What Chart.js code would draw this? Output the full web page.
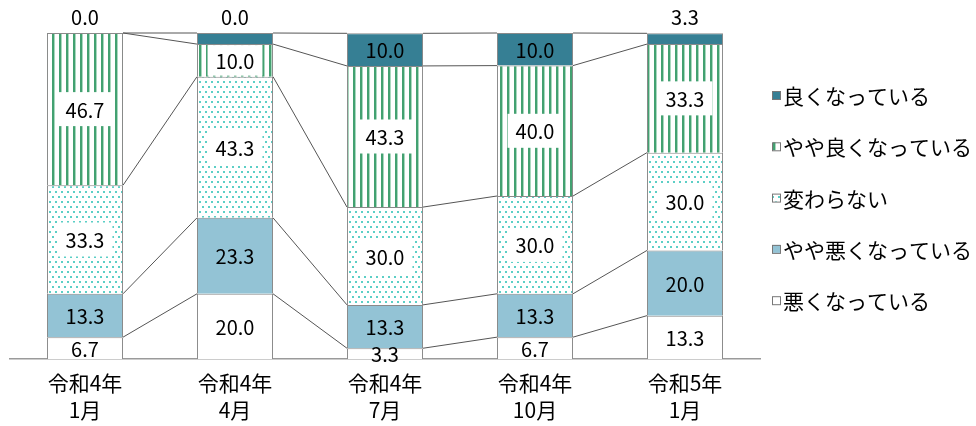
<!DOCTYPE html>
<html lang="ja">
<head>
<meta charset="UTF-8">
<title>景況感の推移</title>
<script src="https://cdn.jsdelivr.net/npm/chart.js@4/dist/chart.umd.min.js"></script>
<style>
  html, body { margin: 0; padding: 0; background: #fff; }
  #wrap { width: 976px; height: 426px; }
</style>
</head>
<body>
<div id="wrap"><canvas id="chart" width="976" height="426"></canvas></div>
<script>
// categories (x axis, two lines each)
const categories = [
  ['令和4年', '1月'],
  ['令和4年', '4月'],
  ['令和4年', '7月'],
  ['令和4年', '10月'],
  ['令和5年', '1月']
];

// series values (%), bottom to top
const worse          = [6.7, 20.0, 3.3, 6.7, 13.3];    // 悪くなっている
const slightlyWorse  = [13.3, 23.3, 13.3, 13.3, 20.0]; // やや悪くなっている
const noChange       = [33.3, 43.3, 30.0, 30.0, 30.0]; // 変わらない
const slightlyBetter = [46.7, 10.0, 43.3, 40.0, 33.3]; // やや良くなっている
const better         = [0.0, 3.4, 10.0, 10.0, 3.3];    // 良くなっている
// the reference prints 0.0 on the second bar's top segment
const betterLabels   = ['0.0', '0.0', '10.0', '10.0', '3.3'];

const FONT = "'Noto Sans CJK JP', 'Noto Sans', sans-serif";

function makePattern(w, h, draw) {
  const c = document.createElement('canvas');
  c.width = w; c.height = h;
  const g = c.getContext('2d');
  g.fillStyle = '#fff';
  g.fillRect(0, 0, w, h);
  draw(g);
  return document.getElementById('chart').getContext('2d').createPattern(c, 'repeat');
}

// vertical green stripes
const stripePattern = makePattern(7, 7, g => {
  g.fillStyle = '#a9d8bf';
  g.fillRect(5, 0, 1, 7);
  g.fillStyle = '#43a171';
  g.fillRect(3, 0, 2, 7);
});

// teal dots, rows offset
const dotPattern = makePattern(6, 10, g => {
  g.fillStyle = '#5ccfc6';
  g.fillRect(1, 1, 2, 2);
  g.fillRect(4, 6, 2, 2);
});

const series = [
  { label: '悪くなっている', data: worse, fill: '#ffffff', box: false },
  { label: 'やや悪くなっている', data: slightlyWorse, fill: '#93c3d5', box: false },
  { label: '変わらない', data: noChange, fill: dotPattern, box: true },
  { label: 'やや良くなっている', data: slightlyBetter, fill: stripePattern, box: true },
  { label: '良くなっている', data: better, fill: '#367f94', box: false, texts: betterLabels }
];

// Excel style series lines between bars
const seriesLines = {
  id: 'seriesLines',
  beforeDatasetsDraw(chart) {
    const ctx = chart.ctx;
    ctx.save();
    ctx.strokeStyle = '#555';
    ctx.lineWidth = 1;
    chart.data.datasets.forEach((ds, d) => {
      const bars = chart.getDatasetMeta(d).data;
      for (let i = 0; i < bars.length - 1; i++) {
        const a = bars[i], b = bars[i + 1];
        ctx.beginPath();
        ctx.moveTo(a.x + a.width / 2, a.y);
        ctx.lineTo(b.x - b.width / 2, b.y);
        ctx.stroke();
      }
    });
    ctx.restore();
  }
};

// value labels
const valueLabels = {
  id: 'valueLabels',
  afterDatasetsDraw(chart) {
    const ctx = chart.ctx;
    const last = chart.data.datasets.length - 1;
    ctx.save();
    ctx.font = '20px ' + FONT;
    ctx.textAlign = 'center';
    ctx.textBaseline = 'middle';
    chart.data.datasets.forEach((ds, d) => {
      const bars = chart.getDatasetMeta(d).data;
      bars.forEach((el, i) => {
        const v = ds.data[i];
        const text = ds.texts ? ds.texts[i] : v.toFixed(1);
        let y = (el.y + el.base) / 2;
        if (d === last && v < 5) y = el.y - 17;
        if (series[d].box) {
          const w = ctx.measureText(text).width + 16;
          const h = Math.min(34, Math.abs(el.base - el.y) - 2);
          ctx.fillStyle = '#fff';
          ctx.fillRect(el.x - w / 2, y - h / 2, w, h);
        }
        ctx.fillStyle = '#000';
        ctx.fillText(text, el.x, y + 1);
      });
    });
    ctx.restore();
  }
};

// legend on the right, top series first
const sideLegend = {
  id: 'sideLegend',
  afterDraw(chart) {
    const ctx = chart.ctx;
    ctx.save();
    ctx.font = '21px ' + FONT;
    ctx.textBaseline = 'middle';
    ctx.textAlign = 'left';
    const items = chart.data.datasets.slice().reverse();
    items.forEach((ds, k) => {
      const y = 95 + k * 51.3;
      ctx.fillStyle = ds.backgroundColor;
      ctx.fillRect(772, y - 4, 8, 8);
      ctx.strokeStyle = '#777';
      ctx.lineWidth = 1;
      ctx.strokeRect(772.5, y - 3.5, 8, 8);
      ctx.fillStyle = '#000';
      ctx.fillText(ds.label, 783, y + 1);
    });
    ctx.restore();
  }
};

new Chart(document.getElementById('chart'), {
  type: 'bar',
  data: {
    labels: categories,
    datasets: series.map(s => ({
      label: s.label,
      data: s.data,
      texts: s.texts,
      backgroundColor: s.fill,
      borderColor: '#8a8a8a',
      borderWidth: 1,
      categoryPercentage: 1,
      barPercentage: 0.507
    }))
  },
  options: {
    responsive: false,
    animation: false,
    layout: { padding: { left: 10, right: 216, top: 33, bottom: 0 } },
    plugins: {
      legend: { display: false },
      tooltip: { enabled: false }
    },
    scales: {
      x: {
        stacked: true,
        grid: { display: false, drawTicks: false },
        border: { display: true, color: '#9a9a9a', width: 1.5 },
        ticks: {
          color: '#000',
          font: { family: FONT, size: 21, lineHeight: 1.3 },
          padding: 10,
          maxRotation: 0,
          autoSkip: false
        },
        afterFit(scale) { scale.height = 67; }
      },
      y: {
        stacked: true,
        display: false,
        min: 0,
        max: 100
      }
    }
  },
  plugins: [seriesLines, valueLabels, sideLegend]
});
</script>
</body>
</html>
